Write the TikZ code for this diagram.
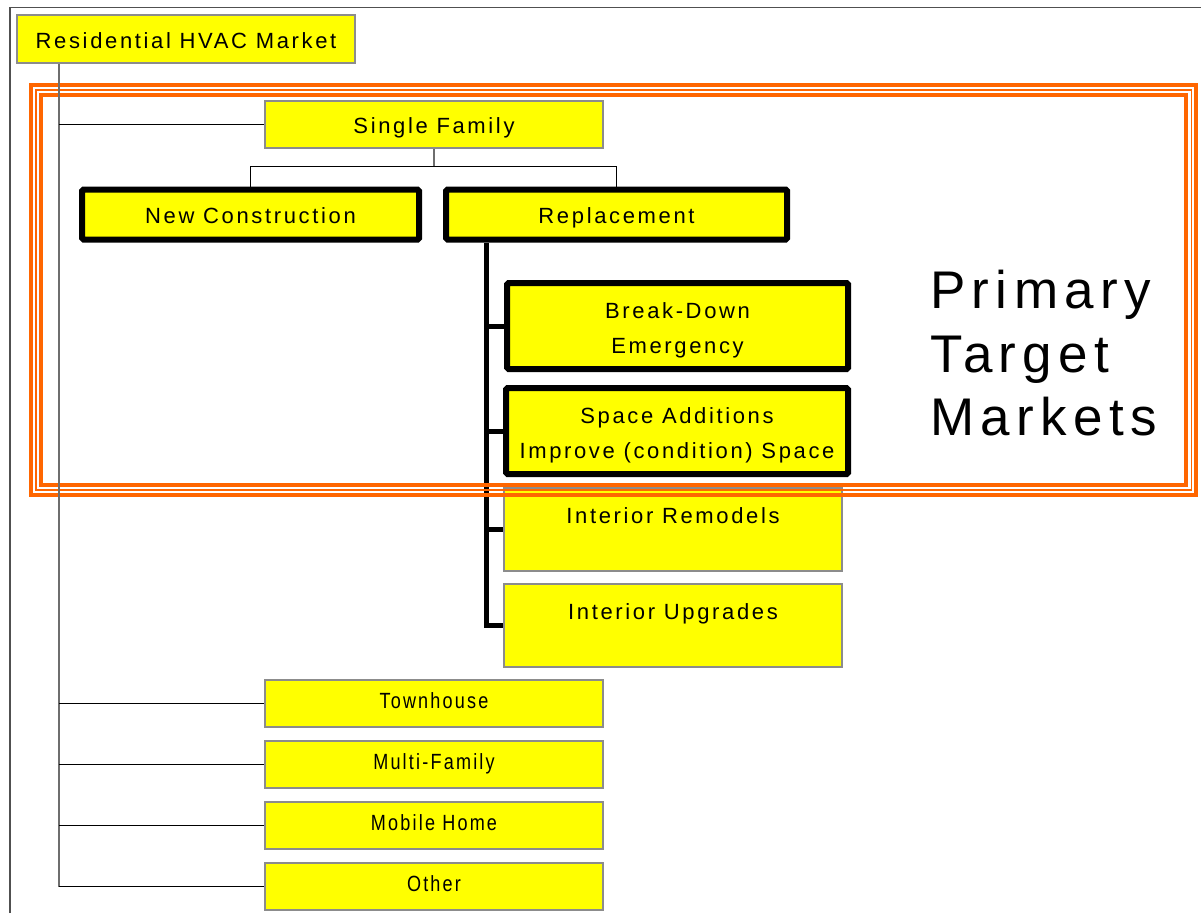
\documentclass[tikz,border=0pt]{standalone}
\usepackage{fontspec}
\setmainfont{Liberation Sans}
\newfontfamily\boxfont{Liberation Sans}[LetterSpace=12]
\newfontfamily\narrowfont{Liberation Sans}[LetterSpace=10,FakeStretch=0.82]
\definecolor{hvyellow}{RGB}{255,255,0}
\definecolor{frameorange}{RGB}{255,102,0}
\definecolor{boxgray}{RGB}{140,140,140}
\definecolor{linegray}{RGB}{110,110,110}
\definecolor{edgegray}{RGB}{80,80,80}
\begin{document}
\begin{tikzpicture}[x=1pt,y=-1pt,
  plainbox/.style={draw=boxgray, line width=1.2pt, fill=hvyellow, inner sep=0pt,
    minimum width=338pt, minimum height=47pt, align=center,
    text height=18pt, text depth=0pt,
    font={\boxfont\fontsize{22}{35}\selectfont}},
  narrowbox/.style={plainbox, text height=10pt, text depth=0pt,
    font={\narrowfont\fontsize{22}{35}\selectfont}},
  boldbox/.style={plainbox, draw=black, line width=6pt, rounded corners=1.5pt},
  twoline/.style={text height=54pt, text depth=0pt},
  toptext/.style={text height=0pt, text depth=11.2pt},
  thinline/.style={draw=black, line width=1pt},
  trunkline/.style={draw=linegray, line width=1.5pt},
  heavyline/.style={draw=black, line width=5pt},
  orangeband/.style={draw=frameorange, line width=4pt},
  orangethin/.style={draw=frameorange, line width=1.8pt}
]
\useasboundingbox (0,0) rectangle (1201,913);

% page frame
\draw[draw=edgegray, line width=1.5pt] (10,913) -- (10,7.5) -- (1201,7.5);

% hierarchy root
\node[plainbox, minimum height=48pt] (res) at (186,39) {Residential HVAC Market};

% segment boxes
\node[plainbox] (single) at (434,124.5) {Single Family};
\node[narrowbox] (town)   at (434,703.5) {Townhouse};
\node[narrowbox] (multi)  at (434,764.5) {Multi-Family};
\node[narrowbox] (mobile) at (434,825.5) {Mobile Home};
\node[narrowbox] (other)  at (434,886.5) {Other};

% single family split
\node[boldbox, minimum width=337pt, minimum height=50pt] (newc) at (250.5,214.5) {New Construction};
\node[boldbox, minimum width=341pt, minimum height=50pt] (repl) at (616.5,214.5) {Replacement};

\coordinate (split) at (0,166);
\draw[trunkline, line width=1.2pt] (single.south) -- (single.south |- split);
\draw[thinline] (newc.north |- split) -- (repl.north |- split);
\draw[thinline] (newc.north |- split) -- (newc.north);
\draw[thinline] (repl.north |- split) -- (repl.north);

% replacement drivers
\node[boldbox, twoline, minimum width=341pt, minimum height=86pt] (brk) at (677.5,326) {Break-Down\\Emergency};
\node[boldbox, twoline, minimum width=342pt, minimum height=86pt] (spc) at (677,431) {Space Additions\\Improve (condition) Space};
\node[plainbox, toptext, minimum height=83pt] (rem) at (673,529.5) {Interior Remodels};
\node[plainbox, toptext, minimum height=83pt] (upg) at (673,625.5) {Interior Upgrades};

\coordinate (rx) at (486,0);
\draw[heavyline] (repl.south -| rx) -- (upg.west -| rx) -- (upg.west);
\draw[heavyline] (brk.west -| rx) -- (brk.west);
\draw[heavyline] (spc.west -| rx) -- (spc.west);
\draw[heavyline] (rem.west -| rx) -- (rem.west);

% primary target frame
\draw[orangeband] (31.3,85) rectangle (1196,494.7);
\draw[orangethin] (36,90) rectangle (1191.4,489.8);
\draw[orangeband] (40.7,95) rectangle (1186,484.7);

\node[anchor=north west, inner sep=0pt, align=left,
  font={\boxfont\fontsize{53}{63.5}\selectfont}] (ptm) at (930,270)
  {Primary\\Target\\Markets};

% trunk from the root to every segment
\coordinate (tr) at (59,0);
\draw[trunkline] (res.south -| tr) -- (other.west -| tr);
\draw[thinline] (single.west -| tr) -- (single.west);
\draw[thinline] (town.west -| tr) -- (town.west);
\draw[thinline] (multi.west -| tr) -- (multi.west);
\draw[thinline] (mobile.west -| tr) -- (mobile.west);
\draw[thinline] (other.west -| tr) -- (other.west);
\end{tikzpicture}
\end{document}
